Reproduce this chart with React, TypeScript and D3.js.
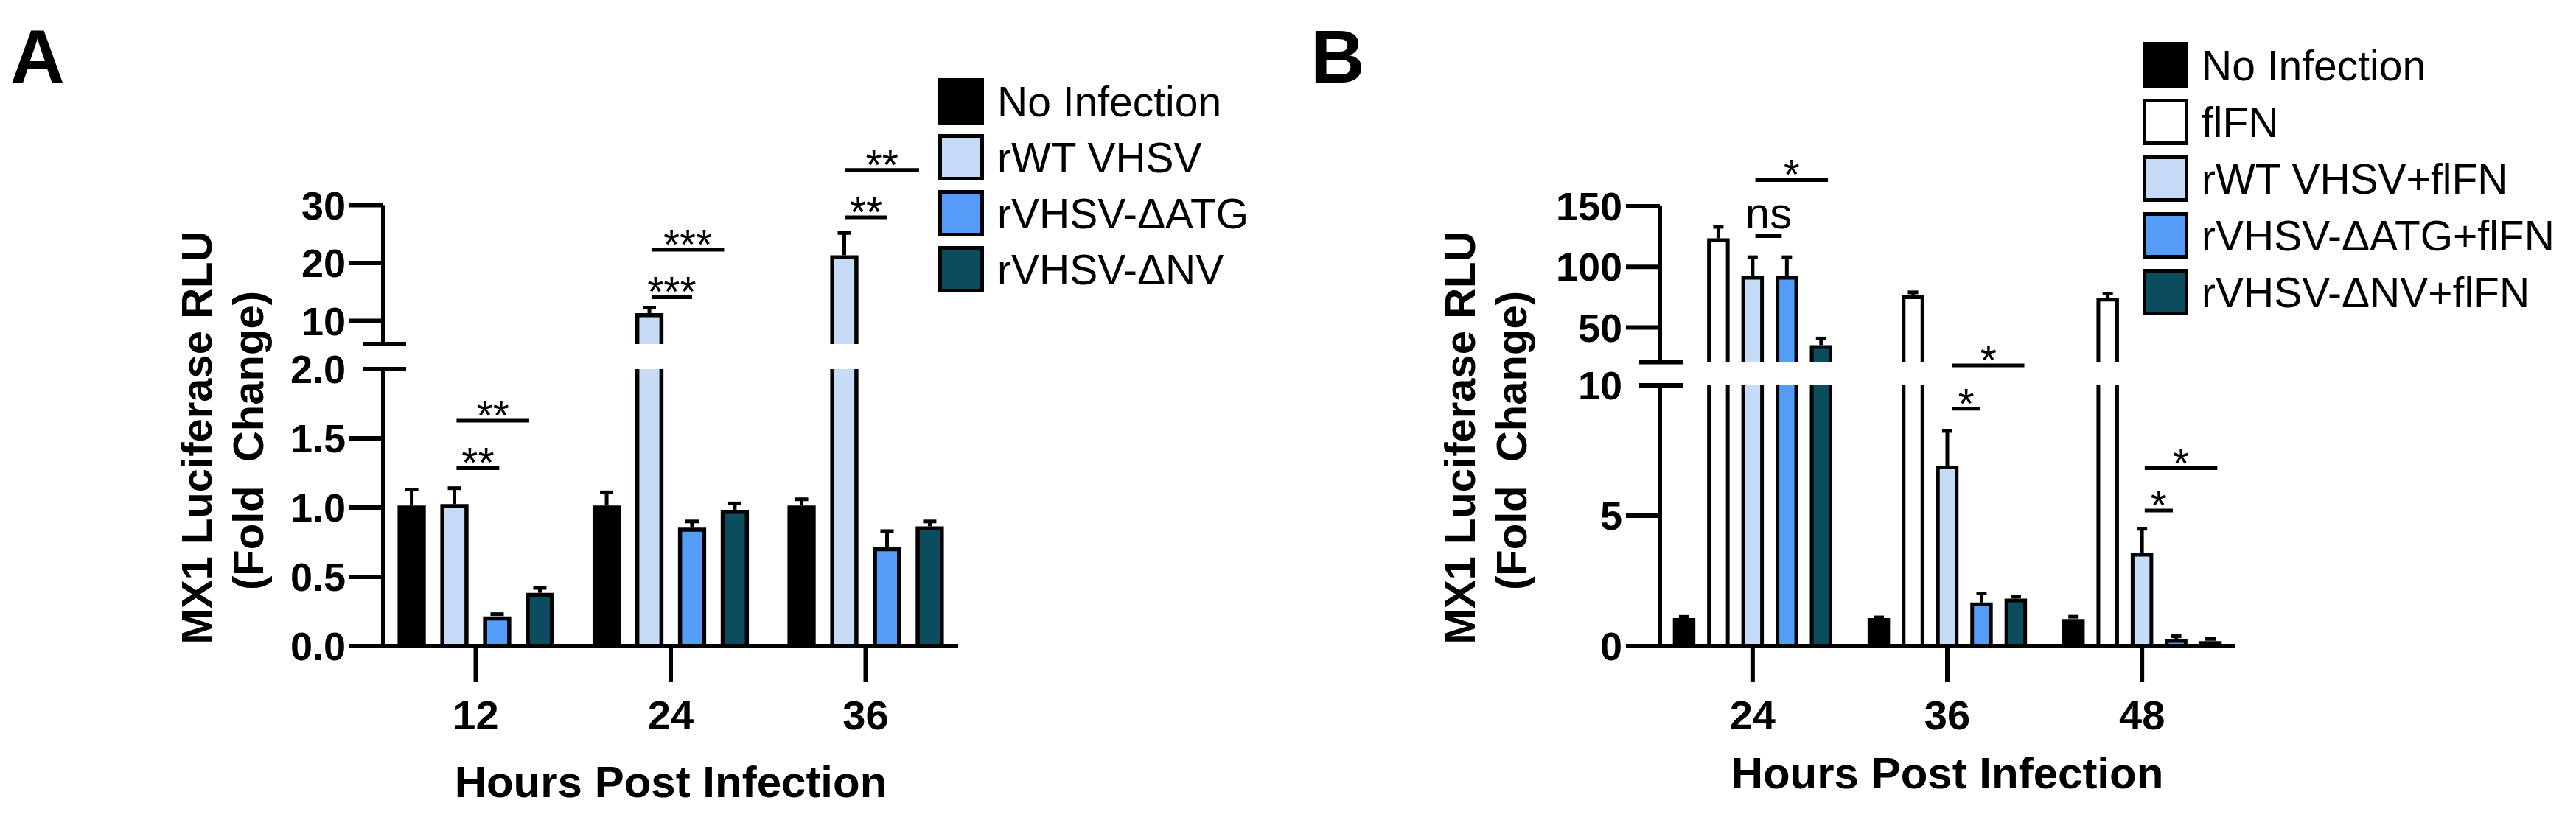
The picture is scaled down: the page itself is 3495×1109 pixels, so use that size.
import React from 'react';
import * as d3 from 'd3';

// ---------------- DATA ----------------
const hoursA = ['12', '24', '36'];
const seriesA = ['No Infection', 'rWT VHSV', 'rVHSV-\u0394ATG', 'rVHSV-\u0394NV'];
const colorsA = ['#000000', '#c6dbf5', '#559cf7', '#0b4d5f'];
const meanA = [
  [1.0, 1.01, 0.2, 0.37],
  [1.0, 11.0, 0.84, 0.97],
  [1.0, 21.0, 0.7, 0.85],
];
const errA = [
  [0.13, 0.13, 0.015, 0.05],
  [0.11, 1.3, 0.06, 0.06],
  [0.06, 4.2, 0.13, 0.05],
];
const ticksALow = [0, 0.5, 1.0, 1.5, 2.0];
const ticksAHigh = [10, 20, 30];
const sigA = [
  { group: 0, from: 1.05, to: 2.05, y: 1.285, label: '**' },
  { group: 0, from: 1.05, to: 2.75, y: 1.628, label: '**' },
  { group: 1, from: 1.05, to: 2.0, y: 14.1, label: '***' },
  { group: 1, from: 1.05, to: 2.75, y: 22.3, label: '***' },
  { group: 2, from: 1.02, to: 2.0, y: 27.9, label: '**' },
  { group: 2, from: 1.02, to: 2.75, y: 36.1, label: '**' },
];

const hoursB = ['24', '36', '48'];
const seriesB = ['No Infection', 'flFN', 'rWT VHSV+flFN', 'rVHSV-\u0394ATG+flFN', 'rVHSV-\u0394NV+flFN'];
const colorsB = ['#000000', '#ffffff', '#c6dbf5', '#559cf7', '#0b4d5f'];
const meanB = [
  [1.0, 122, 91, 91, 34],
  [1.0, 75, 6.85, 1.6, 1.75],
  [0.97, 73, 3.5, 0.2, 0.12],
];
const errB = [
  [0.12, 11, 17, 17, 7],
  [0.1, 4, 1.4, 0.42, 0.15],
  [0.08, 5, 1.0, 0.18, 0.06],
];
const ticksBLow = [0, 5, 10];
const ticksBHigh = [50, 100, 150];
const sigB = [
  { group: 0, from: 2.08, to: 2.85, y: 125.4, label: 'ns' },
  { group: 0, from: 2.08, to: 4.2, y: 171.6, label: '*' },
  { group: 1, from: 2.15, to: 2.95, y: 9.1, label: '*' },
  { group: 1, from: 2.15, to: 4.25, y: 10.76, label: '*' },
  { group: 2, from: 2.08, to: 2.9, y: 5.2, label: '*' },
  { group: 2, from: 2.08, to: 4.2, y: 6.82, label: '*' },
];

const FONT = '"Liberation Sans", Arial, Helvetica, sans-serif';

type PanelProps = {
  letter: string;
  letterX: number;
  groups: string[];
  series: string[];
  colors: string[];
  means: number[][];
  errs: number[][];
  ticksLow: number[];
  ticksHigh: number[];
  lowDomain: [number, number];
  lowRange: [number, number];
  highDomain: [number, number];
  highRange: [number, number];
  xRange: [number, number];
  padInner: number;
  padOuter: number;
  barPad: number;
  barStroke: number;
  capW: number;
  sig: { group: number; from: number; to: number; y: number; label: string }[];
  tickFmt: (v: number) => string;
  titleX1: number;
  titleX2: number;
  xTitleY: number;
  legendX: number;
  legendY0: number;
  legendStep: number;
};

function Panel(p: PanelProps) {
  const yLow = d3.scaleLinear().domain(p.lowDomain).range(p.lowRange);
  const yHigh = d3.scaleLinear().domain(p.highDomain).range(p.highRange);
  const lowMax = p.lowDomain[1];
  const highMin = p.highDomain[0];
  const yPos = (v: number) => (v < highMin ? yLow(v) : yHigh(v));
  const x0 = d3.scaleBand<string>().domain(p.groups).range(p.xRange).paddingInner(p.padInner).paddingOuter(p.padOuter);
  const x1 = d3
    .scaleBand<number>()
    .domain(d3.range(p.series.length))
    .range([0, x0.bandwidth()])
    .paddingInner(p.barPad)
    .paddingOuter(0);
  const base = p.lowRange[0];
  const axisX = p.xRange[0];
  const gapLowTop = yLow(lowMax);
  const gapHighBottom = yHigh(highMin);
  const axisW = 6;
  const tickLen = 46;
  const sw = p.barStroke;
  const barCenter = (g: number, idx: number) => {
    const start = x0(p.groups[g])!;
    return start + idx * x1.step() + x1.bandwidth() / 2;
  };

  const bars: React.ReactNode[] = [];
  p.groups.forEach((g, gi) => {
    p.series.forEach((s, si) => {
      const v = p.means[gi][si];
      const e = p.errs[gi][si];
      const bx = x0(g)! + x1(si)! + sw / 2;
      const bw = x1.bandwidth() - sw;
      const cx = bx + bw / 2;
      const fill = p.colors[si];
      const key = `${gi}-${si}`;
      if (v <= lowMax) {
        const top = yLow(v);
        bars.push(
          <path
            key={key}
            d={`M${bx},${base}V${top}H${bx + bw}V${base}`}
            fill={fill}
            stroke="#000"
            strokeWidth={sw}
            strokeLinejoin="miter"
          />
        );
      } else {
        const top = yHigh(v);
        bars.push(
          <g key={key}>
            <rect x={bx} y={gapLowTop} width={bw} height={base - gapLowTop} fill={fill} />
            <line x1={bx} x2={bx} y1={base} y2={gapLowTop} stroke="#000" strokeWidth={sw} />
            <line x1={bx + bw} x2={bx + bw} y1={base} y2={gapLowTop} stroke="#000" strokeWidth={sw} />
            <path
              d={`M${bx},${gapHighBottom}V${top}H${bx + bw}V${gapHighBottom}`}
              fill={fill}
              stroke="#000"
              strokeWidth={sw}
            />
          </g>
        );
      }
      const ty = yPos(v) - sw / 2;
      const ey = yPos(v + e);
      if (ty - ey > 1) {
        bars.push(
          <g key={key + 'e'}>
            <line x1={cx} x2={cx} y1={ty} y2={ey} stroke="#000" strokeWidth={5} />
            <line x1={cx - p.capW / 2} x2={cx + p.capW / 2} y1={ey} y2={ey} stroke="#000" strokeWidth={5} />
          </g>
        );
      } else {
        bars.push(
          <line key={key + 'e'} x1={cx - p.capW / 2} x2={cx + p.capW / 2} y1={ty - 3} y2={ty - 3} stroke="#000" strokeWidth={5} />
        );
      }
    });
  });

  return (
    <g fontFamily={FONT}>
      <text x={p.letterX} y={112} fontSize={102} fontWeight="bold">
        {p.letter}
      </text>
      {/* y axis lower segment */}
      <line x1={axisX} x2={axisX} y1={base + axisW / 2} y2={gapLowTop} stroke="#000" strokeWidth={axisW} />
      {/* y axis upper segment */}
      <line x1={axisX} x2={axisX} y1={gapHighBottom} y2={yHigh(p.highDomain[1])} stroke="#000" strokeWidth={axisW} />
      {/* break marks */}
      <line x1={axisX - 28} x2={axisX + 31} y1={gapLowTop} y2={gapLowTop} stroke="#000" strokeWidth={axisW} />
      <line x1={axisX - 28} x2={axisX + 31} y1={gapHighBottom} y2={gapHighBottom} stroke="#000" strokeWidth={axisW} />
      {p.ticksLow.map((t) => (
        <g key={'tl' + t}>
          {t !== lowMax && (
            <line x1={axisX - tickLen} x2={axisX} y1={yLow(t)} y2={yLow(t)} stroke="#000" strokeWidth={axisW} />
          )}
          <text x={axisX - 51} y={yLow(t) + 19} fontSize={54} fontWeight="bold" textAnchor="end">
            {p.tickFmt(t)}
          </text>
        </g>
      ))}
      {p.ticksHigh.map((t) => (
        <g key={'th' + t}>
          <line x1={axisX - tickLen} x2={axisX} y1={yHigh(t)} y2={yHigh(t)} stroke="#000" strokeWidth={axisW} />
          <text x={axisX - 51} y={yHigh(t) + 19} fontSize={54} fontWeight="bold" textAnchor="end">
            {String(t)}
          </text>
        </g>
      ))}
      {/* y titles */}
      <text
        transform={`translate(${p.titleX1},594) rotate(-90)`}
        fontSize={58}
        fontWeight="bold"
        textAnchor="middle"
      >
        MX1 Luciferase RLU
      </text>
      <text
        transform={`translate(${p.titleX2},598) rotate(-90)`}
        fontSize={58}
        fontWeight="bold"
        textAnchor="middle"
        style={{ whiteSpace: 'pre' }}
      >
        {'(Fold  Change)'}
      </text>
      {bars}
      {/* x axis */}
      <line x1={axisX - axisW / 2} x2={p.xRange[1]} y1={base} y2={base} stroke="#000" strokeWidth={axisW} />
      {p.groups.map((g) => {
        const cx = x0(g)! + x0.bandwidth() / 2;
        return (
          <g key={'x' + g}>
            <line x1={cx} x2={cx} y1={base} y2={base + 49} stroke="#000" strokeWidth={axisW} />
            <text x={cx} y={990} fontSize={56} fontWeight="bold" textAnchor="middle">
              {g}
            </text>
          </g>
        );
      })}
      <text
        x={(x0(p.groups[0])! + x0(p.groups[p.groups.length - 1])! + x0.bandwidth()) / 2}
        y={p.xTitleY}
        fontSize={60}
        fontWeight="bold"
        textAnchor="middle"
      >
        Hours Post Infection
      </text>
      {/* significance */}
      {p.sig.map((s, i) => {
        const xa = barCenter(s.group, s.from);
        const xb = barCenter(s.group, s.to);
        const ly = yPos(s.y);
        const isNs = s.label === 'ns';
        return (
          <g key={'s' + i}>
            <line x1={xa} x2={xb} y1={ly} y2={ly} stroke="#000" strokeWidth={5} />
            <text
              x={(xa + xb) / 2}
              y={isNs ? ly - 10 : ly + 13}
              fontSize={isNs ? 60 : 57}
              textAnchor="middle"
            >
              {s.label}
            </text>
          </g>
        );
      })}
      {/* legend */}
      {p.series.map((s, i) => {
        const y = p.legendY0 + i * p.legendStep;
        return (
          <g key={'lg' + i}>
            <rect x={p.legendX + 2.5} y={y + 2.5} width={57} height={58} fill={p.colors[i]} stroke="#000" strokeWidth={5} />
            <text x={p.legendX + 80} y={y + 52} fontSize={57}>
              {s}
            </text>
          </g>
        );
      })}
    </g>
  );
}

export default function App() {
  return (
    <svg
      width={3495}
      height={1109}
      viewBox="0 0 3495 1109"
      style={{ position: 'absolute', left: 0, top: 0, display: 'block', background: '#fff' }}
    >
      <rect x={0} y={0} width={3495} height={1109} fill="#fff" />
      <Panel
        letter="A"
        letterX={14}
        groups={hoursA}
        series={seriesA}
        colors={colorsA}
        means={meanA}
        errs={errA}
        ticksLow={ticksALow}
        ticksHigh={ticksAHigh}
        lowDomain={[0, 2]}
        lowRange={[877, 501]}
        highDomain={[6, 30]}
        highRange={[467, 278.6]}
        xRange={[520, 1300]}
        padInner={0.198}
        padOuter={0.0735}
        barPad={0.34}
        barStroke={5.5}
        capW={18}
        sig={sigA}
        tickFmt={(v) => v.toFixed(1)}
        titleX1={287}
        titleX2={357}
        xTitleY={1082}
        legendX={1273}
        legendY0={106}
        legendStep={76}
      />
      <Panel
        letter="B"
        letterX={1778}
        groups={hoursB}
        series={seriesB}
        colors={colorsB}
        means={meanB}
        errs={errB}
        ticksLow={ticksBLow}
        ticksHigh={ticksBHigh}
        lowDomain={[0, 10]}
        lowRange={[877, 523]}
        highDomain={[21.5, 150]}
        highRange={[491.5, 280]}
        xRange={[2252, 3032]}
        padInner={0.181}
        padOuter={0.067}
        barPad={0.344}
        barStroke={5}
        capW={14}
        sig={sigB}
        tickFmt={(v) => String(v)}
        titleX1={2001}
        titleX2={2071}
        xTitleY={1070}
        legendX={2907}
        legendY0={57}
        legendStep={77}
      />
    </svg>
  );
}
